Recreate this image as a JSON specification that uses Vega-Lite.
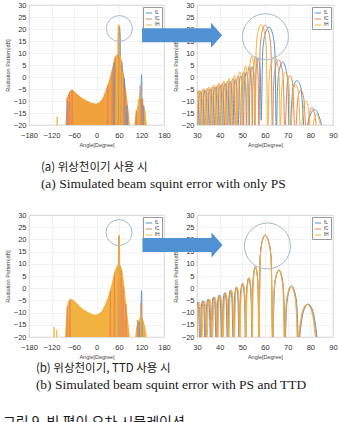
{
"$schema": "https://vega.github.io/schema/vega-lite/v6.json",
"padding": {"left": 2, "top": 0, "right": 0, "bottom": 0},
"background": "white",
"spacing": 19,
"resolve": {"scale": {"x": "independent", "y": "independent", "color": "independent"}, "legend": {"color": "independent"}, "axis": {"x": "independent", "y": "independent"}},
"title": {"text": "그림 9. 빔 편이 오차 시뮬레이션", "orient": "bottom", "anchor": "start", "frame": "bounds", "font": "Noto Sans CJK KR", "fontSize": 14, "fontWeight": "normal", "color": "#1a1a1a", "offset": 25, "dx": -2},
"datasets": {
"tl_area": [
{"seg":"m","x":-83,"y":-20},{"seg":"m","x":-80,"y":-13},{"seg":"m","x":-78,"y":-8.5},{"seg":"m","x":-75,"y":-7.2},{"seg":"m","x":-72,"y":-6.0},{"seg":"m","x":-68,"y":-5.4},{"seg":"m","x":-64,"y":-5.3},{"seg":"m","x":-60,"y":-5.8},{"seg":"m","x":-52,"y":-7.0},{"seg":"m","x":-42,"y":-8.3},{"seg":"m","x":-32,"y":-9.3},{"seg":"m","x":-22,"y":-10.1},{"seg":"m","x":-12,"y":-10.8},{"seg":"m","x":-3,"y":-11.0},{"seg":"m","x":5,"y":-10.8},{"seg":"m","x":12,"y":-9.9},{"seg":"m","x":18,"y":-8.2},{"seg":"m","x":24,"y":-5.8},{"seg":"m","x":30,"y":-3.0},{"seg":"m","x":36,"y":0.0},{"seg":"m","x":41,"y":3.2},{"seg":"m","x":45,"y":6.0},{"seg":"m","x":49,"y":8.2},{"seg":"m","x":53,"y":9.2},{"seg":"m","x":57,"y":9.5},{"seg":"m","x":62,"y":8.5},{"seg":"m","x":66,"y":6.5},{"seg":"m","x":70,"y":4.0},{"seg":"m","x":74,"y":0.0},{"seg":"m","x":78,"y":-4.5},{"seg":"m","x":82,"y":-9.5},{"seg":"m","x":86,"y":-15},{"seg":"m","x":89,"y":-20},
{"seg":"g","x":101,"y":-20},{"seg":"g","x":104,"y":-16},{"seg":"g","x":107,"y":-13.5},{"seg":"g","x":110,"y":-12},{"seg":"g","x":113,"y":-10},{"seg":"g","x":116,"y":-8.5},{"seg":"g","x":119,"y":-9},{"seg":"g","x":122,"y":-10},{"seg":"g","x":125,"y":-11.5},{"seg":"g","x":128,"y":-13},{"seg":"g","x":131,"y":-16},{"seg":"g","x":134,"y":-20}
],
"tl_line": [
{"s":"fL","x":-79,"y":-26},{"s":"fL","x":-77,"y":-10},{"s":"fL","x":-75,"y":-26},{"s":"fL","x":45,"y":-26},{"s":"fL","x":47,"y":6},{"s":"fL","x":49,"y":-26},{"s":"fL","x":58.3,"y":-26},{"s":"fL","x":60,"y":17},{"s":"fL","x":61.8,"y":20.8},{"s":"fL","x":63.6,"y":17},{"s":"fL","x":65,"y":-26},{"s":"fL","x":65.6,"y":-26},{"s":"fL","x":67.8,"y":6.2},{"s":"fL","x":70,"y":-26},{"s":"fL","x":71,"y":-26},{"s":"fL","x":74,"y":-0.5},{"s":"fL","x":77,"y":-26},{"s":"fL","x":78,"y":-26},{"s":"fL","x":81,"y":-12},{"s":"fL","x":84,"y":-26},{"s":"fL","x":111.5,"y":-26},{"s":"fL","x":113,"y":-11},{"s":"fL","x":114.5,"y":-26},{"s":"fL","x":118,"y":-26},{"s":"fL","x":119.2,"y":-2},{"s":"fL","x":120,"y":1},{"s":"fL","x":120.8,"y":-2},{"s":"fL","x":122,"y":-26},{"s":"fL","x":124,"y":-26},{"s":"fL","x":126,"y":-12},{"s":"fL","x":128,"y":-26},
{"s":"fC","x":-80,"y":-26},{"s":"fC","x":-78.5,"y":-8.5},{"s":"fC","x":-77,"y":-26},{"s":"fC","x":-74,"y":-26},{"s":"fC","x":-72,"y":-6.3},{"s":"fC","x":-70,"y":-26},{"s":"fC","x":-67,"y":-26},{"s":"fC","x":-65,"y":-5.5},{"s":"fC","x":-63,"y":-26},{"s":"fC","x":28,"y":-26},{"s":"fC","x":30,"y":-3.5},{"s":"fC","x":32,"y":-26},{"s":"fC","x":40,"y":-26},{"s":"fC","x":42,"y":2.5},{"s":"fC","x":44,"y":-26},{"s":"fC","x":48,"y":-26},{"s":"fC","x":50,"y":8.4},{"s":"fC","x":52,"y":-26},{"s":"fC","x":57.3,"y":-26},{"s":"fC","x":58.6,"y":17},{"s":"fC","x":60,"y":21.6},{"s":"fC","x":61.4,"y":17},{"s":"fC","x":63.3,"y":-26},{"s":"fC","x":63.6,"y":-26},{"s":"fC","x":66,"y":7.2},{"s":"fC","x":68.5,"y":-26},{"s":"fC","x":69,"y":-26},{"s":"fC","x":71,"y":1},{"s":"fC","x":73.5,"y":-26},{"s":"fC","x":74,"y":-26},{"s":"fC","x":76,"y":-5},{"s":"fC","x":78.5,"y":-26},{"s":"fC","x":104,"y":-26},{"s":"fC","x":106,"y":-14},{"s":"fC","x":108,"y":-26},{"s":"fC","x":115,"y":-26},{"s":"fC","x":116.5,"y":-3.5},{"s":"fC","x":118,"y":-26},{"s":"fC","x":121,"y":-26},{"s":"fC","x":123,"y":-9},{"s":"fC","x":125,"y":-26},
{"s":"fH","x":-107,"y":-26},{"s":"fH","x":-105,"y":-16.5},{"s":"fH","x":-103,"y":-26},{"s":"fH","x":51,"y":-26},{"s":"fH","x":53,"y":9.2},{"s":"fH","x":55,"y":-26},{"s":"fH","x":55.6,"y":-26},{"s":"fH","x":56.9,"y":18},{"s":"fH","x":58.2,"y":21.8},{"s":"fH","x":59.6,"y":18},{"s":"fH","x":61.2,"y":-26},{"s":"fH","x":61.7,"y":-26},{"s":"fH","x":64.2,"y":8.5},{"s":"fH","x":66.7,"y":-26},{"s":"fH","x":67,"y":-26},{"s":"fH","x":69,"y":2},{"s":"fH","x":71.3,"y":-26},{"s":"fH","x":110,"y":-26},{"s":"fH","x":111.5,"y":-9},{"s":"fH","x":113,"y":-26},{"s":"fH","x":113.5,"y":-26},{"s":"fH","x":115,"y":-7},{"s":"fH","x":116.5,"y":-26},{"s":"fH","x":127,"y":-26},{"s":"fH","x":129,"y":-14},{"s":"fH","x":131,"y":-26}
],
"bl_area": [
{"seg":"m","x":-84,"y":-20},{"seg":"m","x":-81,"y":-12},{"seg":"m","x":-78,"y":-7},{"seg":"m","x":-75,"y":-5.3},{"seg":"m","x":-71,"y":-4.5},{"seg":"m","x":-67,"y":-4.3},{"seg":"m","x":-62,"y":-4.8},{"seg":"m","x":-55,"y":-5.8},{"seg":"m","x":-45,"y":-7.3},{"seg":"m","x":-35,"y":-8.6},{"seg":"m","x":-25,"y":-9.6},{"seg":"m","x":-15,"y":-10.4},{"seg":"m","x":-5,"y":-10.9},{"seg":"m","x":5,"y":-10.6},{"seg":"m","x":14,"y":-9.3},{"seg":"m","x":22,"y":-7.0},{"seg":"m","x":30,"y":-3.8},{"seg":"m","x":36,"y":-0.8},{"seg":"m","x":42,"y":3.0},{"seg":"m","x":47,"y":6.5},{"seg":"m","x":52,"y":8.5},{"seg":"m","x":56,"y":9.5},{"seg":"m","x":64,"y":9.5},{"seg":"m","x":68,"y":8.0},{"seg":"m","x":72,"y":4.0},{"seg":"m","x":76,"y":-1.5},{"seg":"m","x":80,"y":-7.5},{"seg":"m","x":84,"y":-13},{"seg":"m","x":89,"y":-20},
{"seg":"g","x":103,"y":-20},{"seg":"g","x":106,"y":-16},{"seg":"g","x":110,"y":-14},{"seg":"g","x":114,"y":-12.5},{"seg":"g","x":118,"y":-11},{"seg":"g","x":122,"y":-12},{"seg":"g","x":126,"y":-13.5},{"seg":"g","x":130,"y":-16},{"seg":"g","x":134,"y":-20}
],
"bl_line": [
{"s":"fL","x":58.5,"y":-26},{"s":"fL","x":60,"y":21},{"s":"fL","x":61.5,"y":-26},{"s":"fL","x":112,"y":-26},{"s":"fL","x":113.5,"y":-14},{"s":"fL","x":115,"y":-26},{"s":"fL","x":117.8,"y":-26},{"s":"fL","x":119,"y":-5},{"s":"fL","x":120,"y":-1},{"s":"fL","x":121,"y":-5},{"s":"fL","x":122.2,"y":-26},
{"s":"fC","x":-80,"y":-26},{"s":"fC","x":-78,"y":-7.5},{"s":"fC","x":-76,"y":-26},{"s":"fC","x":-73,"y":-26},{"s":"fC","x":-71,"y":-4.8},{"s":"fC","x":-69,"y":-26},{"s":"fC","x":35,"y":-26},{"s":"fC","x":37,"y":-1},{"s":"fC","x":39,"y":-26},{"s":"fC","x":46,"y":-26},{"s":"fC","x":48,"y":6},{"s":"fC","x":50,"y":-26},{"s":"fC","x":57.3,"y":-26},{"s":"fC","x":58.6,"y":17.5},{"s":"fC","x":60,"y":21.7},{"s":"fC","x":61.4,"y":17.5},{"s":"fC","x":62.7,"y":-26},{"s":"fC","x":63.5,"y":-26},{"s":"fC","x":66,"y":7.4},{"s":"fC","x":68.5,"y":-26},{"s":"fC","x":69,"y":-26},{"s":"fC","x":71.5,"y":0.8},{"s":"fC","x":74,"y":-26},{"s":"fC","x":75,"y":-26},{"s":"fC","x":78.5,"y":-6.6},{"s":"fC","x":82,"y":-26},{"s":"fC","x":108,"y":-26},{"s":"fC","x":110,"y":-13},{"s":"fC","x":112,"y":-26},{"s":"fC","x":117.5,"y":-26},{"s":"fC","x":119,"y":-6},{"s":"fC","x":120.5,"y":-26},
{"s":"fH","x":-115,"y":-26},{"s":"fH","x":-113,"y":-16},{"s":"fH","x":-111,"y":-26},{"s":"fH","x":-108,"y":-26},{"s":"fH","x":-106,"y":-17},{"s":"fH","x":-104,"y":-26},{"s":"fH","x":57.4,"y":-26},{"s":"fH","x":58.7,"y":17.5},{"s":"fH","x":60,"y":21.7},{"s":"fH","x":61.3,"y":17.5},{"s":"fH","x":62.6,"y":-26},{"s":"fH","x":116.5,"y":-26},{"s":"fH","x":118,"y":-9},{"s":"fH","x":119.5,"y":-26}
],
"tr": [
{"s":"fL","x":28.1,"y":-24},{"s":"fL","x":28.65,"y":-9.6},{"s":"fL","x":29.2,"y":-6.6},{"s":"fL","x":29.75,"y":-9.6},
{"s":"fL","x":30.3,"y":-24},{"s":"fL","x":30.85,"y":-9.0},{"s":"fL","x":31.4,"y":-6.0},{"s":"fL","x":31.95,"y":-9.0},
{"s":"fL","x":32.5,"y":-24},{"s":"fL","x":33.05,"y":-8.5},{"s":"fL","x":33.6,"y":-5.5},{"s":"fL","x":34.15,"y":-8.5},
{"s":"fL","x":34.7,"y":-24},{"s":"fL","x":35.25,"y":-7.9},{"s":"fL","x":35.8,"y":-4.9},{"s":"fL","x":36.35,"y":-7.9},
{"s":"fL","x":36.9,"y":-24},{"s":"fL","x":37.45,"y":-7.2},{"s":"fL","x":38.0,"y":-4.2},{"s":"fL","x":38.55,"y":-7.2},
{"s":"fL","x":39.1,"y":-24},{"s":"fL","x":39.65,"y":-6.5},{"s":"fL","x":40.2,"y":-3.5},{"s":"fL","x":40.75,"y":-6.5},
{"s":"fL","x":41.3,"y":-24},{"s":"fL","x":41.85,"y":-5.7},{"s":"fL","x":42.4,"y":-2.7},{"s":"fL","x":42.95,"y":-5.7},
{"s":"fL","x":43.5,"y":-24},{"s":"fL","x":44.08,"y":-4.8},{"s":"fL","x":44.65,"y":-1.8},{"s":"fL","x":45.23,"y":-4.8},
{"s":"fL","x":45.8,"y":-24},{"s":"fL","x":46.38,"y":-3.8},{"s":"fL","x":46.95,"y":-0.8},{"s":"fL","x":47.53,"y":-3.8},
{"s":"fL","x":48.1,"y":-24},{"s":"fL","x":48.7,"y":-2.6},{"s":"fL","x":49.3,"y":0.4},{"s":"fL","x":49.9,"y":-2.6},
{"s":"fL","x":50.5,"y":-24},{"s":"fL","x":50.75,"y":-8},{"s":"fL","x":51.13,"y":-1},{"s":"fL","x":51.75,"y":2.0},{"s":"fL","x":52.38,"y":-1},{"s":"fL","x":52.75,"y":-8},
{"s":"fL","x":53.0,"y":-24},{"s":"fL","x":53.26,"y":-5.7},{"s":"fL","x":53.65,"y":1.3},{"s":"fL","x":54.3,"y":4.3},{"s":"fL","x":54.95,"y":1.3},{"s":"fL","x":55.34,"y":-5.7},
{"s":"fL","x":55.6,"y":-24},{"s":"fL","x":55.87,"y":-2},{"s":"fL","x":56.28,"y":5},{"s":"fL","x":56.95,"y":8.0},{"s":"fL","x":57.63,"y":5},{"s":"fL","x":58.03,"y":-2},
{"s":"fL","x":58.3,"y":-18},{"s":"fL","x":59.0,"y":10.8},{"s":"fL","x":60.05,"y":17.8},{"s":"fL","x":61.8,"y":20.8},{"s":"fL","x":63.4,"y":17.8},{"s":"fL","x":64.36,"y":10.8},
{"s":"fL","x":65.0,"y":-24},{"s":"fL","x":65.56,"y":-3.8},{"s":"fL","x":66.4,"y":3.2},{"s":"fL","x":67.8,"y":6.2},{"s":"fL","x":69.25,"y":3.2},{"s":"fL","x":70.12,"y":-3.8},
{"s":"fL","x":70.7,"y":-24},{"s":"fL","x":72.4,"y":-4.5},{"s":"fL","x":74.1,"y":-1.5},{"s":"fL","x":75.85,"y":-4.5},
{"s":"fL","x":77.6,"y":-24},{"s":"fL","x":79.7,"y":-16.5},{"s":"fL","x":81.8,"y":-13.5},{"s":"fL","x":83.9,"y":-16.5},
{"s":"fL","x":86.0,"y":-24},
{"s":"fC","x":26.9,"y":-24},{"s":"fC","x":27.45,"y":-9.5},{"s":"fC","x":28.0,"y":-6.5},{"s":"fC","x":28.55,"y":-9.5},
{"s":"fC","x":29.1,"y":-24},{"s":"fC","x":29.65,"y":-9.0},{"s":"fC","x":30.2,"y":-6.0},{"s":"fC","x":30.75,"y":-9.0},
{"s":"fC","x":31.3,"y":-24},{"s":"fC","x":31.85,"y":-8.4},{"s":"fC","x":32.4,"y":-5.4},{"s":"fC","x":32.95,"y":-8.4},
{"s":"fC","x":33.5,"y":-24},{"s":"fC","x":34.05,"y":-7.8},{"s":"fC","x":34.6,"y":-4.8},{"s":"fC","x":35.15,"y":-7.8},
{"s":"fC","x":35.7,"y":-24},{"s":"fC","x":36.25,"y":-7.1},{"s":"fC","x":36.8,"y":-4.1},{"s":"fC","x":37.35,"y":-7.1},
{"s":"fC","x":37.9,"y":-24},{"s":"fC","x":38.45,"y":-6.4},{"s":"fC","x":39.0,"y":-3.4},{"s":"fC","x":39.55,"y":-6.4},
{"s":"fC","x":40.1,"y":-24},{"s":"fC","x":40.65,"y":-5.6},{"s":"fC","x":41.2,"y":-2.6},{"s":"fC","x":41.75,"y":-5.6},
{"s":"fC","x":42.3,"y":-24},{"s":"fC","x":42.88,"y":-4.7},{"s":"fC","x":43.45,"y":-1.7},{"s":"fC","x":44.03,"y":-4.7},
{"s":"fC","x":44.6,"y":-24},{"s":"fC","x":45.18,"y":-3.7},{"s":"fC","x":45.75,"y":-0.7},{"s":"fC","x":46.33,"y":-3.7},
{"s":"fC","x":46.9,"y":-24},{"s":"fC","x":47.5,"y":-2.5},{"s":"fC","x":48.1,"y":0.5},{"s":"fC","x":48.7,"y":-2.5},
{"s":"fC","x":49.3,"y":-24},{"s":"fC","x":49.55,"y":-7.9},{"s":"fC","x":49.93,"y":-0.9},{"s":"fC","x":50.55,"y":2.1},{"s":"fC","x":51.18,"y":-0.9},{"s":"fC","x":51.55,"y":-7.9},
{"s":"fC","x":51.8,"y":-24},{"s":"fC","x":52.06,"y":-5.5},{"s":"fC","x":52.45,"y":1.5},{"s":"fC","x":53.1,"y":4.5},{"s":"fC","x":53.75,"y":1.5},{"s":"fC","x":54.14,"y":-5.5},
{"s":"fC","x":54.4,"y":-24},{"s":"fC","x":54.69,"y":-1.6},{"s":"fC","x":55.13,"y":5.4},{"s":"fC","x":55.85,"y":8.4},{"s":"fC","x":56.58,"y":5.4},{"s":"fC","x":57.01,"y":-1.6},
{"s":"fC","x":57.3,"y":-24},{"s":"fC","x":57.84,"y":11.6},{"s":"fC","x":58.65,"y":18.6},{"s":"fC","x":60.0,"y":21.6},{"s":"fC","x":61.65,"y":18.6},{"s":"fC","x":62.64,"y":11.6},
{"s":"fC","x":63.3,"y":-24},{"s":"fC","x":63.84,"y":-2.8},{"s":"fC","x":64.65,"y":4.2},{"s":"fC","x":66.0,"y":7.2},{"s":"fC","x":67.35,"y":4.2},{"s":"fC","x":68.16,"y":-2.8},
{"s":"fC","x":68.7,"y":-24},{"s":"fC","x":69.85,"y":-2.4},{"s":"fC","x":71.0,"y":0.6},{"s":"fC","x":72.15,"y":-2.4},
{"s":"fC","x":73.3,"y":-24},{"s":"fC","x":74.55,"y":-8.5},{"s":"fC","x":75.8,"y":-5.5},{"s":"fC","x":77.05,"y":-8.5},
{"s":"fC","x":78.3,"y":-24},{"s":"fC","x":79.5,"y":-15.8},{"s":"fC","x":80.7,"y":-12.8},{"s":"fC","x":81.95,"y":-15.8},
{"s":"fC","x":83.2,"y":-24},
{"s":"fH","x":27.7,"y":-24},{"s":"fH","x":28.25,"y":-9.1},{"s":"fH","x":28.8,"y":-6.1},{"s":"fH","x":29.3,"y":-9.1},
{"s":"fH","x":29.8,"y":-24},{"s":"fH","x":30.35,"y":-8.5},{"s":"fH","x":30.9,"y":-5.5},{"s":"fH","x":31.45,"y":-8.5},
{"s":"fH","x":32.0,"y":-24},{"s":"fH","x":32.55,"y":-7.8},{"s":"fH","x":33.1,"y":-4.8},{"s":"fH","x":33.65,"y":-7.8},
{"s":"fH","x":34.2,"y":-24},{"s":"fH","x":34.75,"y":-7.1},{"s":"fH","x":35.3,"y":-4.1},{"s":"fH","x":35.85,"y":-7.1},
{"s":"fH","x":36.4,"y":-24},{"s":"fH","x":36.95,"y":-6.3},{"s":"fH","x":37.5,"y":-3.3},{"s":"fH","x":38.05,"y":-6.3},
{"s":"fH","x":38.6,"y":-24},{"s":"fH","x":39.15,"y":-5.5},{"s":"fH","x":39.7,"y":-2.5},{"s":"fH","x":40.25,"y":-5.5},
{"s":"fH","x":40.8,"y":-24},{"s":"fH","x":41.35,"y":-4.6},{"s":"fH","x":41.9,"y":-1.6},{"s":"fH","x":42.45,"y":-4.6},
{"s":"fH","x":43.0,"y":-24},{"s":"fH","x":43.6,"y":-3.6},{"s":"fH","x":44.15,"y":-0.6},{"s":"fH","x":44.7,"y":-3.6},
{"s":"fH","x":45.3,"y":-24},{"s":"fH","x":45.9,"y":-2.4},{"s":"fH","x":46.5,"y":0.6},{"s":"fH","x":47.1,"y":-2.4},
{"s":"fH","x":47.7,"y":-24},{"s":"fH","x":47.94,"y":-7.8},{"s":"fH","x":48.3,"y":-0.8},{"s":"fH","x":48.9,"y":2.2},{"s":"fH","x":49.5,"y":-0.8},{"s":"fH","x":49.86,"y":-7.8},
{"s":"fH","x":50.1,"y":-24},{"s":"fH","x":50.36,"y":-5.4},{"s":"fH","x":50.75,"y":1.6},{"s":"fH","x":51.4,"y":4.6},{"s":"fH","x":52.05,"y":1.6},{"s":"fH","x":52.44,"y":-5.4},
{"s":"fH","x":52.7,"y":-24},{"s":"fH","x":52.99,"y":-1.4},{"s":"fH","x":53.43,"y":5.6},{"s":"fH","x":54.15,"y":8.6},{"s":"fH","x":54.88,"y":5.6},{"s":"fH","x":55.31,"y":-1.4},
{"s":"fH","x":55.6,"y":-24},{"s":"fH","x":56.12,"y":11.8},{"s":"fH","x":56.9,"y":18.8},{"s":"fH","x":58.2,"y":21.8},{"s":"fH","x":59.7,"y":18.8},{"s":"fH","x":60.6,"y":11.8},
{"s":"fH","x":61.2,"y":-24},{"s":"fH","x":61.8,"y":-1.5},{"s":"fH","x":62.7,"y":5.5},{"s":"fH","x":64.2,"y":8.5},{"s":"fH","x":65.5,"y":5.5},{"s":"fH","x":66.28,"y":-1.5},
{"s":"fH","x":66.8,"y":-24},{"s":"fH","x":67.24,"y":-8},{"s":"fH","x":67.9,"y":-1},{"s":"fH","x":69.0,"y":2.0},{"s":"fH","x":70.15,"y":-1},{"s":"fH","x":70.84,"y":-8},
{"s":"fH","x":71.3,"y":-24},{"s":"fH","x":72.4,"y":-6},{"s":"fH","x":73.5,"y":-3.0},{"s":"fH","x":74.65,"y":-6},
{"s":"fH","x":75.8,"y":-24},{"s":"fH","x":76.9,"y":-13},{"s":"fH","x":78.0,"y":-10},{"s":"fH","x":79.15,"y":-13},
{"s":"fH","x":80.3,"y":-24},{"s":"fH","x":81.55,"y":-18.5},{"s":"fH","x":82.8,"y":-15.5},{"s":"fH","x":84.05,"y":-18.5},
{"s":"fH","x":85.3,"y":-24}
],
"br": [
{"s":"fL","x":26.63,"y":-24},{"s":"fL","x":27.18,"y":-9.4},{"s":"fL","x":27.73,"y":-6.4},{"s":"fL","x":28.33,"y":-9.4},
{"s":"fL","x":28.95,"y":-24},{"s":"fL","x":29.53,"y":-8.8},{"s":"fL","x":30.1,"y":-5.8},{"s":"fL","x":30.69,"y":-8.8},
{"s":"fL","x":31.28,"y":-24},{"s":"fL","x":31.87,"y":-8.2},{"s":"fL","x":32.44,"y":-5.2},{"s":"fL","x":33.03,"y":-8.2},
{"s":"fL","x":33.62,"y":-24},{"s":"fL","x":34.22,"y":-7.5},{"s":"fL","x":34.83,"y":-4.5},{"s":"fL","x":35.43,"y":-7.5},
{"s":"fL","x":36.05,"y":-24},{"s":"fL","x":36.66,"y":-6.7},{"s":"fL","x":37.26,"y":-3.7},{"s":"fL","x":37.87,"y":-6.7},
{"s":"fL","x":38.49,"y":-24},{"s":"fL","x":39.1,"y":-5.9},{"s":"fL","x":39.7,"y":-2.9},{"s":"fL","x":40.31,"y":-5.9},
{"s":"fL","x":40.93,"y":-24},{"s":"fL","x":41.57,"y":-4.9},{"s":"fL","x":42.19,"y":-1.9},{"s":"fL","x":42.83,"y":-4.9},
{"s":"fL","x":43.46,"y":-24},{"s":"fL","x":44.1,"y":-3.8},{"s":"fL","x":44.73,"y":-0.8},{"s":"fL","x":45.37,"y":-3.8},
{"s":"fL","x":46.0,"y":-24},{"s":"fL","x":46.66,"y":-2.6},{"s":"fL","x":47.32,"y":0.4},{"s":"fL","x":47.97,"y":-2.6},
{"s":"fL","x":48.63,"y":-24},{"s":"fL","x":48.91,"y":-8.1},{"s":"fL","x":49.32,"y":-1.1},{"s":"fL","x":50.01,"y":1.9},{"s":"fL","x":50.7,"y":-1.1},{"s":"fL","x":51.1,"y":-8.1},
{"s":"fL","x":51.37,"y":-24},{"s":"fL","x":51.66,"y":-5.8},{"s":"fL","x":52.09,"y":1.2},{"s":"fL","x":52.8,"y":4.2},{"s":"fL","x":53.5,"y":1.2},{"s":"fL","x":53.93,"y":-5.8},
{"s":"fL","x":54.21,"y":-24},{"s":"fL","x":54.52,"y":-1.3},{"s":"fL","x":54.98,"y":5.7},{"s":"fL","x":55.74,"y":8.7},{"s":"fL","x":56.5,"y":5.7},{"s":"fL","x":56.96,"y":-1.3},
{"s":"fL","x":57.26,"y":-24},{"s":"fL","x":57.81,"y":11.7},{"s":"fL","x":58.63,"y":18.7},{"s":"fL","x":60.0,"y":21.7},{"s":"fL","x":61.73,"y":18.7},{"s":"fL","x":62.76,"y":11.7},
{"s":"fL","x":63.45,"y":-24},{"s":"fL","x":63.99,"y":-2.6},{"s":"fL","x":64.82,"y":4.4},{"s":"fL","x":66.19,"y":7.4},{"s":"fL","x":67.51,"y":4.4},{"s":"fL","x":68.3,"y":-2.6},
{"s":"fL","x":68.83,"y":-24},{"s":"fL","x":69.42,"y":-9.2},{"s":"fL","x":70.31,"y":-2.2},{"s":"fL","x":71.77,"y":0.8},{"s":"fL","x":73.3,"y":-2.2},{"s":"fL","x":74.21,"y":-9.2},
{"s":"fL","x":74.82,"y":-24},{"s":"fL","x":75.67,"y":-16.6},{"s":"fL","x":76.95,"y":-9.6},{"s":"fL","x":79.08,"y":-6.6},{"s":"fL","x":81.21,"y":-9.6},{"s":"fL","x":82.49,"y":-16.6},
{"s":"fL","x":83.34,"y":-24},
{"s":"fC","x":27.1,"y":-24},{"s":"fC","x":27.65,"y":-9.4},{"s":"fC","x":28.2,"y":-6.4},{"s":"fC","x":28.8,"y":-9.4},
{"s":"fC","x":29.4,"y":-24},{"s":"fC","x":29.98,"y":-8.8},{"s":"fC","x":30.55,"y":-5.8},{"s":"fC","x":31.13,"y":-8.8},
{"s":"fC","x":31.7,"y":-24},{"s":"fC","x":32.28,"y":-8.2},{"s":"fC","x":32.85,"y":-5.2},{"s":"fC","x":33.43,"y":-8.2},
{"s":"fC","x":34.0,"y":-24},{"s":"fC","x":34.6,"y":-7.5},{"s":"fC","x":35.2,"y":-4.5},{"s":"fC","x":35.8,"y":-7.5},
{"s":"fC","x":36.4,"y":-24},{"s":"fC","x":37.0,"y":-6.7},{"s":"fC","x":37.6,"y":-3.7},{"s":"fC","x":38.2,"y":-6.7},
{"s":"fC","x":38.8,"y":-24},{"s":"fC","x":39.4,"y":-5.9},{"s":"fC","x":40.0,"y":-2.9},{"s":"fC","x":40.6,"y":-5.9},
{"s":"fC","x":41.2,"y":-24},{"s":"fC","x":41.83,"y":-4.9},{"s":"fC","x":42.45,"y":-1.9},{"s":"fC","x":43.08,"y":-4.9},
{"s":"fC","x":43.7,"y":-24},{"s":"fC","x":44.33,"y":-3.8},{"s":"fC","x":44.95,"y":-0.8},{"s":"fC","x":45.58,"y":-3.8},
{"s":"fC","x":46.2,"y":-24},{"s":"fC","x":46.85,"y":-2.6},{"s":"fC","x":47.5,"y":0.4},{"s":"fC","x":48.15,"y":-2.6},
{"s":"fC","x":48.8,"y":-24},{"s":"fC","x":49.07,"y":-8.1},{"s":"fC","x":49.48,"y":-1.1},{"s":"fC","x":50.15,"y":1.9},{"s":"fC","x":50.83,"y":-1.1},{"s":"fC","x":51.23,"y":-8.1},
{"s":"fC","x":51.5,"y":-24},{"s":"fC","x":51.78,"y":-5.8},{"s":"fC","x":52.2,"y":1.2},{"s":"fC","x":52.9,"y":4.2},{"s":"fC","x":53.6,"y":1.2},{"s":"fC","x":54.02,"y":-5.8},
{"s":"fC","x":54.3,"y":-24},{"s":"fC","x":54.6,"y":-1.3},{"s":"fC","x":55.05,"y":5.7},{"s":"fC","x":55.8,"y":8.7},{"s":"fC","x":56.55,"y":5.7},{"s":"fC","x":57.0,"y":-1.3},
{"s":"fC","x":57.3,"y":-24},{"s":"fC","x":57.84,"y":11.7},{"s":"fC","x":58.65,"y":18.7},{"s":"fC","x":60.0,"y":21.7},{"s":"fC","x":61.7,"y":18.7},{"s":"fC","x":62.72,"y":11.7},
{"s":"fC","x":63.4,"y":-24},{"s":"fC","x":63.94,"y":-2.6},{"s":"fC","x":64.75,"y":4.4},{"s":"fC","x":66.1,"y":7.4},{"s":"fC","x":67.4,"y":4.4},{"s":"fC","x":68.18,"y":-2.6},
{"s":"fC","x":68.7,"y":-24},{"s":"fC","x":69.28,"y":-9.2},{"s":"fC","x":70.15,"y":-2.2},{"s":"fC","x":71.6,"y":0.8},{"s":"fC","x":73.1,"y":-2.2},{"s":"fC","x":74.0,"y":-9.2},
{"s":"fC","x":74.6,"y":-24},{"s":"fC","x":75.44,"y":-16.6},{"s":"fC","x":76.7,"y":-9.6},{"s":"fC","x":78.8,"y":-6.6},{"s":"fC","x":80.9,"y":-9.6},{"s":"fC","x":82.16,"y":-16.6},
{"s":"fC","x":83.0,"y":-24},
{"s":"fH","x":27.57,"y":-24},{"s":"fH","x":28.12,"y":-9.4},{"s":"fH","x":28.67,"y":-6.4},{"s":"fH","x":29.27,"y":-9.4},
{"s":"fH","x":29.85,"y":-24},{"s":"fH","x":30.43,"y":-8.8},{"s":"fH","x":31.0,"y":-5.8},{"s":"fH","x":31.57,"y":-8.8},
{"s":"fH","x":32.12,"y":-24},{"s":"fH","x":32.69,"y":-8.2},{"s":"fH","x":33.26,"y":-5.2},{"s":"fH","x":33.83,"y":-8.2},
{"s":"fH","x":34.38,"y":-24},{"s":"fH","x":34.98,"y":-7.5},{"s":"fH","x":35.57,"y":-4.5},{"s":"fH","x":36.17,"y":-7.5},
{"s":"fH","x":36.75,"y":-24},{"s":"fH","x":37.34,"y":-6.7},{"s":"fH","x":37.94,"y":-3.7},{"s":"fH","x":38.53,"y":-6.7},
{"s":"fH","x":39.11,"y":-24},{"s":"fH","x":39.7,"y":-5.9},{"s":"fH","x":40.3,"y":-2.9},{"s":"fH","x":40.89,"y":-5.9},
{"s":"fH","x":41.47,"y":-24},{"s":"fH","x":42.09,"y":-4.9},{"s":"fH","x":42.71,"y":-1.9},{"s":"fH","x":43.33,"y":-4.9},
{"s":"fH","x":43.94,"y":-24},{"s":"fH","x":44.56,"y":-3.8},{"s":"fH","x":45.17,"y":-0.8},{"s":"fH","x":45.79,"y":-3.8},
{"s":"fH","x":46.4,"y":-24},{"s":"fH","x":47.04,"y":-2.6},{"s":"fH","x":47.68,"y":0.4},{"s":"fH","x":48.33,"y":-2.6},
{"s":"fH","x":48.97,"y":-24},{"s":"fH","x":49.23,"y":-8.1},{"s":"fH","x":49.64,"y":-1.1},{"s":"fH","x":50.29,"y":1.9},{"s":"fH","x":50.96,"y":-1.1},{"s":"fH","x":51.36,"y":-8.1},
{"s":"fH","x":51.63,"y":-24},{"s":"fH","x":51.9,"y":-5.8},{"s":"fH","x":52.31,"y":1.2},{"s":"fH","x":53.0,"y":4.2},{"s":"fH","x":53.7,"y":1.2},{"s":"fH","x":54.11,"y":-5.8},
{"s":"fH","x":54.39,"y":-24},{"s":"fH","x":54.68,"y":-1.3},{"s":"fH","x":55.12,"y":5.7},{"s":"fH","x":55.86,"y":8.7},{"s":"fH","x":56.6,"y":5.7},{"s":"fH","x":57.04,"y":-1.3},
{"s":"fH","x":57.34,"y":-24},{"s":"fH","x":57.87,"y":11.7},{"s":"fH","x":58.67,"y":18.7},{"s":"fH","x":60.0,"y":21.7},{"s":"fH","x":61.67,"y":18.7},{"s":"fH","x":62.68,"y":11.7},
{"s":"fH","x":63.35,"y":-24},{"s":"fH","x":63.89,"y":-2.6},{"s":"fH","x":64.68,"y":4.4},{"s":"fH","x":66.01,"y":7.4},{"s":"fH","x":67.29,"y":4.4},{"s":"fH","x":68.06,"y":-2.6},
{"s":"fH","x":68.57,"y":-24},{"s":"fH","x":69.14,"y":-9.2},{"s":"fH","x":69.99,"y":-2.2},{"s":"fH","x":71.43,"y":0.8},{"s":"fH","x":72.9,"y":-2.2},{"s":"fH","x":73.79,"y":-9.2},
{"s":"fH","x":74.38,"y":-24},{"s":"fH","x":75.21,"y":-16.6},{"s":"fH","x":76.45,"y":-9.6},{"s":"fH","x":78.52,"y":-6.6},{"s":"fH","x":80.59,"y":-9.6},{"s":"fH","x":81.83,"y":-16.6},
{"s":"fH","x":82.66,"y":-24}
]
},
"vconcat": [
{
"hconcat": [
{
"width": 135, "height": 120,
"layer": [
{"data": {"name": "tl_area"}, "mark": {"type": "area", "color": "#F0A23C", "clip": true},
 "encoding": {"x": {"field": "x", "type": "quantitative", "scale": {"domain": [-180, 180], "nice": false, "zero": false}, "axis": {"values": [-180, -120, -60, 0, 60, 120, 180], "tickCount": 50, "title": "Angle[Degree]", "labelOverlap": false}},
  "y": {"field": "y", "type": "quantitative", "scale": {"domain": [-20, 30], "nice": false, "zero": false}, "axis": {"values": [-20, -15, -10, -5, 0, 5, 10, 15, 20, 25, 30], "tickCount": 50, "title": "Radiation Pattern[dB]", "labelOverlap": false}},
  "y2": {"datum": -20}, "detail": {"field": "seg"}}},
{"data": {"name": "tl_line"}, "transform": [{"filter": "datum.s === 'fL'"}], "mark": {"type": "line", "strokeWidth": 0.8, "clip": true},
 "encoding": {"x": {"field": "x", "type": "quantitative"}, "y": {"field": "y", "type": "quantitative"},
  "color": {"field": "s", "type": "nominal", "scale": {"domain": ["fL", "fC", "fH"], "range": ["#4E96D8", "#EB8256", "#F0B43A"]}, "legend": {"title": null}}}},
{"data": {"name": "tl_line"}, "transform": [{"filter": "datum.s === 'fC'"}], "mark": {"type": "line", "strokeWidth": 0.8, "clip": true},
 "encoding": {"x": {"field": "x", "type": "quantitative"}, "y": {"field": "y", "type": "quantitative"}, "color": {"field": "s", "type": "nominal"}}},
{"data": {"name": "tl_line"}, "transform": [{"filter": "datum.s === 'fH'"}], "mark": {"type": "line", "strokeWidth": 0.8, "clip": true},
 "encoding": {"x": {"field": "x", "type": "quantitative"}, "y": {"field": "y", "type": "quantitative"}, "color": {"field": "s", "type": "nominal"}}},
{"data": {"values": [{"x": 61, "y": 20.2}]}, "mark": {"type": "point", "shape": "circle", "filled": false, "color": "#A7B9CB", "strokeWidth": 1, "size": 676, "opacity": 1, "clip": false},
 "encoding": {"x": {"field": "x", "type": "quantitative"}, "y": {"field": "y", "type": "quantitative"}}}
]
},
{
"width": 136, "height": 120,
"layer": [
{"data": {"name": "tr"}, "transform": [{"filter": "datum.s === 'fL'"}], "mark": {"type": "line", "strokeWidth": 1, "interpolate": "monotone", "clip": true},
 "encoding": {"x": {"field": "x", "type": "quantitative", "scale": {"domain": [30, 90], "nice": false, "zero": false}, "axis": {"values": [30, 40, 50, 60, 70, 80, 90], "tickCount": 50, "title": "Angle[Degree]", "labelOverlap": false}},
  "y": {"field": "y", "type": "quantitative", "scale": {"domain": [-20, 30], "nice": false, "zero": false}, "axis": {"values": [-20, -15, -10, -5, 0, 5, 10, 15, 20, 25, 30], "tickCount": 50, "title": "Radiation Pattern[dB]", "labelOverlap": false}},
  "color": {"field": "s", "type": "nominal", "scale": {"domain": ["fL", "fC", "fH"], "range": ["#4E96D8", "#EB8256", "#F0B43A"]}, "legend": {"title": null}}}},
{"data": {"name": "tr"}, "transform": [{"filter": "datum.s === 'fC'"}], "mark": {"type": "line", "strokeWidth": 1, "interpolate": "monotone", "clip": true},
 "encoding": {"x": {"field": "x", "type": "quantitative"}, "y": {"field": "y", "type": "quantitative"}, "color": {"field": "s", "type": "nominal"}}},
{"data": {"name": "tr"}, "transform": [{"filter": "datum.s === 'fH'"}], "mark": {"type": "line", "strokeWidth": 1, "interpolate": "monotone", "clip": true},
 "encoding": {"x": {"field": "x", "type": "quantitative"}, "y": {"field": "y", "type": "quantitative"}, "color": {"field": "s", "type": "nominal"}}},
{"data": {"values": [{"x": 60.2, "y": 16.8}]}, "mark": {"type": "point", "shape": "circle", "filled": false, "color": "#A7B9CB", "strokeWidth": 1, "size": 2116, "opacity": 1, "clip": false},
 "encoding": {"x": {"field": "x", "type": "quantitative"}, "y": {"field": "y", "type": "quantitative"}}},
{"data": {"values": [{"x": 23.4, "y": 17.4}]}, "mark": {"type": "point", "shape": "M -1 -0.175 L 0.725 -0.175 L 0.725 -0.31 L 1 0 L 0.725 0.31 L 0.725 0.175 L -1 0.175 Z", "filled": true, "color": "#4F91D3", "size": 6400, "opacity": 1, "clip": false},
 "encoding": {"x": {"field": "x", "type": "quantitative"}, "y": {"field": "y", "type": "quantitative"}}}
]
}
],
"spacing": 33,
"bounds": "flush",
"resolve": {"scale": {"x": "independent", "y": "independent", "color": "independent"}, "legend": {"color": "independent"}, "axis": {"x": "independent", "y": "independent"}},
"title": {"text": "(a) 위상천이기 사용 시", "subtitle": "(a) Simulated beam squint error with only PS", "orient": "bottom", "anchor": "start", "frame": "bounds", "font": "Noto Sans CJK KR", "fontSize": 11.5, "fontWeight": "normal", "color": "#1a1a1a", "subtitleFont": "Liberation Serif", "subtitleFontSize": 13.5, "subtitleColor": "#1a1a1a", "subtitlePadding": 3, "offset": 14, "dx": 36}
},
{
"hconcat": [
{
"width": 135, "height": 122,
"layer": [
{"data": {"name": "bl_area"}, "mark": {"type": "area", "color": "#F1B23F", "clip": true},
 "encoding": {"x": {"field": "x", "type": "quantitative", "scale": {"domain": [-180, 180], "nice": false, "zero": false}, "axis": {"values": [-180, -120, -60, 0, 60, 120, 180], "tickCount": 50, "title": "Angle[Degree]", "labelOverlap": false}},
  "y": {"field": "y", "type": "quantitative", "scale": {"domain": [-20, 30], "nice": false, "zero": false}, "axis": {"values": [-20, -15, -10, -5, 0, 5, 10, 15, 20, 25, 30], "tickCount": 50, "title": "Radiation Pattern[dB]", "labelOverlap": false}},
  "y2": {"datum": -20}, "detail": {"field": "seg"}}},
{"data": {"name": "bl_line"}, "transform": [{"filter": "datum.s === 'fL'"}], "mark": {"type": "line", "strokeWidth": 0.8, "clip": true},
 "encoding": {"x": {"field": "x", "type": "quantitative"}, "y": {"field": "y", "type": "quantitative"},
  "color": {"field": "s", "type": "nominal", "scale": {"domain": ["fL", "fC", "fH"], "range": ["#4E96D8", "#EB8256", "#F0B43A"]}, "legend": {"title": null}}}},
{"data": {"name": "bl_line"}, "transform": [{"filter": "datum.s === 'fC'"}], "mark": {"type": "line", "strokeWidth": 0.8, "clip": true},
 "encoding": {"x": {"field": "x", "type": "quantitative"}, "y": {"field": "y", "type": "quantitative"}, "color": {"field": "s", "type": "nominal"}}},
{"data": {"name": "bl_line"}, "transform": [{"filter": "datum.s === 'fH'"}], "mark": {"type": "line", "strokeWidth": 0.8, "clip": true},
 "encoding": {"x": {"field": "x", "type": "quantitative"}, "y": {"field": "y", "type": "quantitative"}, "color": {"field": "s", "type": "nominal"}}},
{"data": {"values": [{"x": 60, "y": 22.8}]}, "mark": {"type": "point", "shape": "circle", "filled": false, "color": "#A7B9CB", "strokeWidth": 1, "size": 676, "opacity": 1, "clip": false},
 "encoding": {"x": {"field": "x", "type": "quantitative"}, "y": {"field": "y", "type": "quantitative"}}}
]
},
{
"width": 136, "height": 122,
"layer": [
{"data": {"name": "br"}, "transform": [{"filter": "datum.s === 'fL'"}], "mark": {"type": "line", "strokeWidth": 1, "interpolate": "monotone", "clip": true},
 "encoding": {"x": {"field": "x", "type": "quantitative", "scale": {"domain": [30, 90], "nice": false, "zero": false}, "axis": {"values": [30, 40, 50, 60, 70, 80, 90], "tickCount": 50, "title": "Angle[Degree]", "labelOverlap": false}},
  "y": {"field": "y", "type": "quantitative", "scale": {"domain": [-20, 30], "nice": false, "zero": false}, "axis": {"values": [-20, -15, -10, -5, 0, 5, 10, 15, 20, 25, 30], "tickCount": 50, "title": "Radiation Pattern[dB]", "labelOverlap": false}},
  "color": {"field": "s", "type": "nominal", "scale": {"domain": ["fL", "fC", "fH"], "range": ["#4E96D8", "#EB8256", "#F0B43A"]}, "legend": {"title": null}}}},
{"data": {"name": "br"}, "transform": [{"filter": "datum.s === 'fC'"}], "mark": {"type": "line", "strokeWidth": 1, "interpolate": "monotone", "clip": true},
 "encoding": {"x": {"field": "x", "type": "quantitative"}, "y": {"field": "y", "type": "quantitative"}, "color": {"field": "s", "type": "nominal"}}},
{"data": {"name": "br"}, "transform": [{"filter": "datum.s === 'fH'"}], "mark": {"type": "line", "strokeWidth": 1, "interpolate": "monotone", "clip": true},
 "encoding": {"x": {"field": "x", "type": "quantitative"}, "y": {"field": "y", "type": "quantitative"}, "color": {"field": "s", "type": "nominal"}}},
{"data": {"values": [{"x": 61.1, "y": 17.3}]}, "mark": {"type": "point", "shape": "circle", "filled": false, "color": "#A7B9CB", "strokeWidth": 1, "size": 2116, "opacity": 1, "clip": false},
 "encoding": {"x": {"field": "x", "type": "quantitative"}, "y": {"field": "y", "type": "quantitative"}}},
{"data": {"values": [{"x": 23.6, "y": 17.7}]}, "mark": {"type": "point", "shape": "M -1 -0.175 L 0.725 -0.175 L 0.725 -0.31 L 1 0 L 0.725 0.31 L 0.725 0.175 L -1 0.175 Z", "filled": true, "color": "#4F91D3", "size": 6400, "opacity": 1, "clip": false},
 "encoding": {"x": {"field": "x", "type": "quantitative"}, "y": {"field": "y", "type": "quantitative"}}}
]
}
],
"spacing": 33,
"bounds": "flush",
"resolve": {"scale": {"x": "independent", "y": "independent", "color": "independent"}, "legend": {"color": "independent"}, "axis": {"x": "independent", "y": "independent"}},
"title": {"text": "(b) 위상천이기, TTD 사용 시", "subtitle": "(b) Simulated beam squint error with PS and TTD", "orient": "bottom", "anchor": "start", "frame": "bounds", "font": "Noto Sans CJK KR", "fontSize": 11.5, "fontWeight": "normal", "color": "#1a1a1a", "subtitleFont": "Liberation Serif", "subtitleFontSize": 13.5, "subtitleColor": "#1a1a1a", "subtitlePadding": 3, "offset": 3, "dx": 31}
}
],
"config": {
"view": {"stroke": "#b5b5b5", "strokeWidth": 0.8},
"axis": {"domain": false, "ticks": false, "grid": true, "gridColor": "#e9e9e9", "gridWidth": 0.6, "labelFont": "Liberation Sans", "labelFontSize": 7.5, "labelColor": "#333333", "labelOverlap": false, "labelFlush": false, "labelBound": false, "titleFont": "Liberation Sans", "titleFontSize": 5.5, "titleFontWeight": "normal", "titleColor": "#444444"},
"axisX": {"labelPadding": 6, "titlePadding": 4},
"axisY": {"labelPadding": 3, "titlePadding": 3},
"legend": {"orient": "top-right", "offset": 2, "padding": 2, "rowPadding": 0, "symbolType": "stroke", "symbolSize": 40, "symbolStrokeWidth": 1, "labelFontSize": 4.5, "labelFont": "Liberation Sans", "labelColor": "#333333", "labelOffset": 2, "strokeColor": "#999999", "fillColor": "#ffffff", "cornerRadius": 0}
}
}
